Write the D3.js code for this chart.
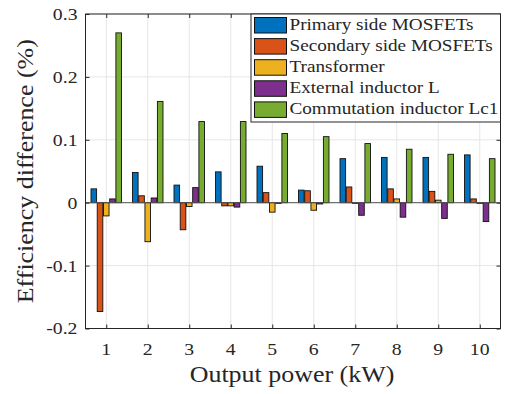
<!DOCTYPE html>
<html>
<head>
<meta charset="utf-8">
<script src="https://cdn.jsdelivr.net/npm/d3@7/dist/d3.min.js"></script>
<style>
html,body{margin:0;padding:0;background:#fff;}
svg{display:block;}
</style>
</head>
<body>
<svg id="chart" width="505" height="394"></svg>
<script>
const categories = [1,2,3,4,5,6,7,8,9,10];
const seriesNames = ["Primary side MOSFETs","Secondary side MOSFETs","Transformer","External inductor L","Commutation inductor Lc1"];
const primary   = [0.022, 0.048, 0.028, 0.049, 0.058, 0.020, 0.070, 0.072, 0.072, 0.076];
const secondary = [-0.173, 0.011, -0.043, -0.005, 0.016, 0.019, 0.025, 0.022, 0.018, 0.006];
const transformer = [-0.021, -0.062, -0.006, -0.005, -0.015, -0.012, -0.001, 0.006, 0.004, -0.001];
const externalL = [0.006, 0.0075, 0.024, -0.007, -0.001, -0.002, -0.020, -0.023, -0.025, -0.030];
const commutation = [0.270, 0.161, 0.129, 0.129, 0.110, 0.105, 0.094, 0.085, 0.077, 0.070];
const colors = ["#0072BD","#D95319","#EDB120","#7E2F8E","#77AC30"];
const yTicks = [-0.2,-0.1,0,0.1,0.2,0.3];
const yTickLabels = ["-0.2","-0.1","0","0.1","0.2","0.3"];
const xLabel = "Output power (kW)";
const yLabel = "Efficiency difference (%)";

const series = [primary, secondary, transformer, externalL, commutation];
const FONT = "'Liberation Serif', 'Times New Roman', serif";

const svg = d3.select("#chart");
const L = 85.5, R = 500.5, T = 14, B = 328.5;
const x = d3.scaleLinear().domain([0.5, 10.5]).range([L, R]);
const y = d3.scaleLinear().domain([-0.2, 0.3]).range([B, T]);

// grid
const grid = svg.append("g");
grid.selectAll("line.gx").data(categories).enter().append("line")
  .attr("x1", d => x(d)).attr("x2", d => x(d)).attr("y1", T).attr("y2", B)
  .attr("stroke", "#e6e6e6").attr("stroke-width", 1);
grid.selectAll("line.gy").data(yTicks).enter().append("line")
  .attr("x1", L).attr("x2", R).attr("y1", d => y(d)).attr("y2", d => y(d))
  .attr("stroke", "#e6e6e6").attr("stroke-width", 1);

// bars
const step = 0.15, bw = 0.135;
const bars = svg.append("g");
series.forEach((vals, si) => {
  bars.selectAll("rect.s" + si).data(vals).enter().append("rect")
    .attr("x", (d, i) => x(categories[i] + (si - 2) * step - bw / 2))
    .attr("width", x(bw) - x(0))
    .attr("y", d => y(Math.max(0, d)))
    .attr("height", d => Math.max(0.6, Math.abs(y(d) - y(0))))
    .attr("fill", colors[si])
    .attr("stroke", "#111").attr("stroke-width", 0.9);
});

// baseline
svg.append("line").attr("x1", L).attr("x2", R).attr("y1", y(0)).attr("y2", y(0))
  .attr("stroke", "#555").attr("stroke-width", 1);

// axes
const axC = "#262626";
const tl = 4;
const xAxisB = d3.axisBottom(x).tickValues(categories).tickSize(-tl).tickFormat("");
const xAxisT = d3.axisTop(x).tickValues(categories).tickSize(-tl).tickFormat("");
const yAxisL = d3.axisLeft(y).tickValues(yTicks).tickSize(-tl).tickFormat("");
const yAxisR = d3.axisRight(y).tickValues(yTicks).tickSize(-tl).tickFormat("");
[[xAxisB, `translate(0,${B})`], [xAxisT, `translate(0,${T})`], [yAxisL, `translate(${L},0)`], [yAxisR, `translate(${R},0)`]].forEach(([ax, tr]) => {
  const g = svg.append("g").attr("transform", tr).call(ax);
  g.selectAll("line").attr("stroke", axC).attr("stroke-width", 1);
  g.selectAll("path.domain").remove();
});
svg.append("rect").attr("x", L).attr("y", T).attr("width", R - L).attr("height", B - T)
  .attr("fill", "none").attr("stroke", axC).attr("stroke-width", 1);

const txt = (sel) => sel.attr("font-family", FONT).attr("fill", "#262626");

// tick labels
svg.append("g").selectAll("text").data(yTicks).enter().append("text")
  .call(txt).attr("class", "stretch")
  .attr("x", L - 8).attr("y", d => y(d)).attr("dy", "0.34em")
  .attr("text-anchor", "end").attr("font-size", 17.5)
  .text((d, i) => yTickLabels[i]);
svg.append("g").selectAll("text").data(categories).enter().append("text")
  .call(txt).attr("class", "stretch")
  .attr("x", d => x(d)).attr("y", 354.5)
  .attr("text-anchor", "middle").attr("font-size", 17.5)
  .text(d => d);

// axis labels
svg.append("text").call(txt).attr("class", "stretch").attr("x", 292).attr("y", 382)
  .attr("text-anchor", "middle").attr("font-size", 23).text(xLabel);
svg.append("text").call(txt).attr("class", "stretch").attr("transform", `translate(33,${(T + B) / 2}) rotate(-90)`)
  .attr("text-anchor", "middle").attr("font-size", 23).text(yLabel);

// legend
const lg = svg.append("g");
lg.append("rect").attr("x", 251).attr("y", T).attr("width", R - 251).attr("height", 108)
  .attr("fill", "#fff").attr("stroke", axC).attr("stroke-width", 1);
seriesNames.forEach((name, i) => {
  const yy = 17.5 + i * 21.1;
  lg.append("rect").attr("x", 254.5).attr("y", yy).attr("width", 32).attr("height", 15.5)
    .attr("fill", colors[i]).attr("stroke", "#111").attr("stroke-width", 1);
  lg.append("text").call(txt).attr("class", "stretch legendText").attr("x", 289.5).attr("y", yy + 12.5)
    .attr("font-size", 17).text(name);
});

// match the wider reference face: scale all text widths uniformly
const ref = lg.select("text.legendText").node();
const factor = 184 / ref.getComputedTextLength();
svg.selectAll("text.stretch").each(function () {
  const w = this.getComputedTextLength();
  d3.select(this).attr("textLength", w * factor).attr("lengthAdjust", "spacingAndGlyphs");
});
</script>
</body>
</html>
